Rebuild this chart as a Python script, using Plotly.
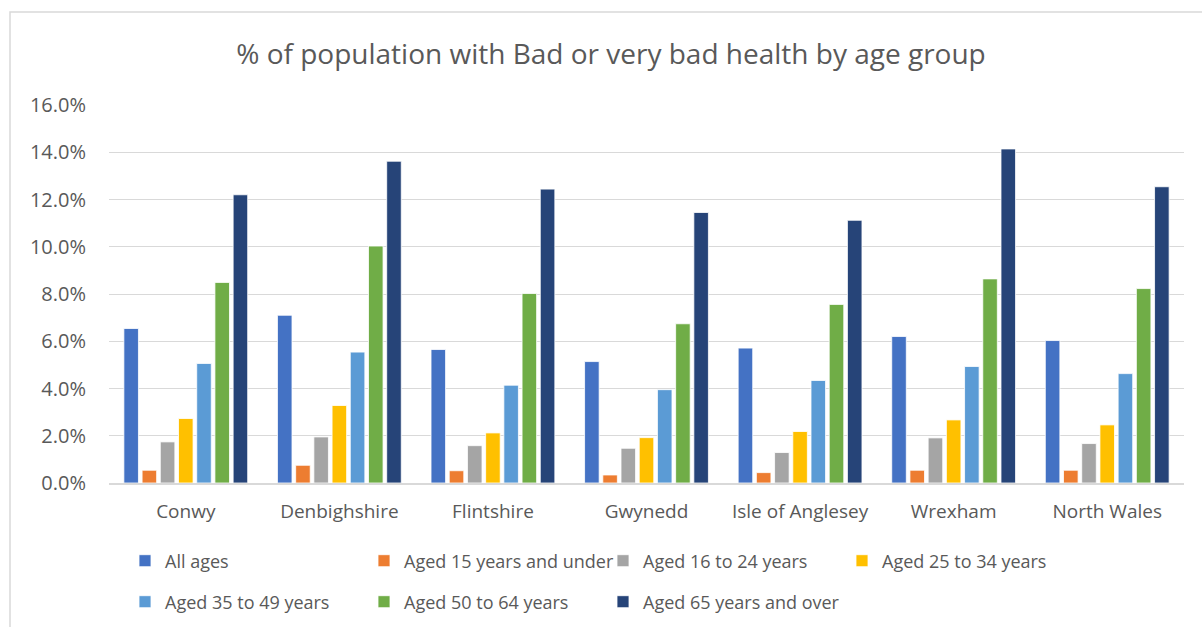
import plotly.graph_objects as go

areas = ["Conwy", "Denbighshire", "Flintshire", "Gwynedd", "Isle of Anglesey", "Wrexham", "North Wales"]

all_ages = [6.54, 7.10, 5.65, 5.14, 5.71, 6.20, 6.03]
aged_0_15 = [0.54, 0.75, 0.52, 0.34, 0.44, 0.54, 0.54]
aged_16_24 = [1.74, 1.95, 1.58, 1.47, 1.29, 1.91, 1.67]
aged_25_34 = [2.73, 3.28, 2.12, 1.92, 2.18, 2.67, 2.46]
aged_35_49 = [5.06, 5.54, 4.14, 3.95, 4.34, 4.93, 4.63]
aged_50_64 = [8.49, 10.03, 8.02, 6.74, 7.56, 8.64, 8.23]
aged_65_plus = [12.20, 13.62, 12.44, 11.45, 11.12, 14.14, 12.54]

series_names = ["All ages", "Aged 15 years and under", "Aged 16 to 24 years",
                "Aged 25 to 34 years", "Aged 35 to 49 years", "Aged 50 to 64 years",
                "Aged 65 years and over"]
series_values = [all_ages, aged_0_15, aged_16_24, aged_25_34, aged_35_49, aged_50_64, aged_65_plus]
colors = ["#4472C4", "#ED7D31", "#A5A5A5", "#FFC000", "#5B9BD5", "#70AD47", "#264478"]
legend_ids = ["legend", "legend", "legend", "legend", "legend2", "legend2", "legend2"]

FONT = "Open Sans"
TXT = "#595959"
GRID = "#d9d9d9"

fig = go.Figure()
for name, vals, col, lg in zip(series_names, series_values, colors, legend_ids):
    fig.add_trace(go.Bar(
        x=areas, y=vals, name=name, legend=lg,
        marker=dict(color=col, line=dict(color="white", width=0.8)),
    ))

W, H = 1202, 627
L, R, T, B = 109, 18, 105, 144
plot_w = W - L - R
plot_h = H - T - B

legend_common = dict(
    orientation="h", xref="container", yref="container",
    xanchor="left", yanchor="middle",
    font=dict(family=FONT, size=18, color=TXT),
    entrywidth=194, entrywidthmode="pixels",
    bgcolor="rgba(0,0,0,0)", traceorder="normal",
)

fig.update_layout(
    width=W, height=H,
    margin=dict(l=L, r=R, t=T, b=B),
    paper_bgcolor="white", plot_bgcolor="white",
    font=dict(family=FONT, color=TXT),
    title=dict(
        text="% of population with Bad or very bad health by age group",
        x=611 / W, xref="container", xanchor="center",
        y=1 - 54 / H, yref="container", yanchor="middle",
        font=dict(family=FONT, size=28, color=TXT),
    ),
    barmode="group", bargap=0.17, bargroupgap=0.2,
    legend=dict(**legend_common, x=(125) / W, y=1 - 561 / H),
    legend2=dict(**legend_common, x=(125) / W, y=1 - 602 / H),
    showlegend=True,
    xaxis=dict(
        showline=True, linecolor=GRID, linewidth=1.5,
        ticks="outside", ticklen=10, tickcolor="rgba(0,0,0,0)",
        tickfont=dict(family=FONT, size=19, color=TXT),
        showgrid=False,
    ),
    yaxis=dict(
        range=[0, 16], dtick=2, tickformat=".1f", ticksuffix="%",
        showgrid=True, gridcolor=GRID, gridwidth=1.4,
        zeroline=False, showline=False,
        ticks="outside", ticklen=18, tickcolor="rgba(0,0,0,0)",
        tickfont=dict(family=FONT, size=20, color=TXT),
    ),
)

# outer chart frame (cropped at right and bottom in the reference)
fig.add_shape(
    type="rect", xref="paper", yref="paper",
    x0=(10 - L) / plot_w, x1=(W + 20 - L) / plot_w,
    y0=-(H + 20 - T - plot_h) / plot_h - 0.2, y1=1 + (T - 12) / plot_h,
    line=dict(color=GRID, width=1.5), fillcolor="rgba(0,0,0,0)", layer="below",
)

fig.write_html("out.html", config={"displayModeBar": False},
               post_script="document.body.style.margin='0';")
